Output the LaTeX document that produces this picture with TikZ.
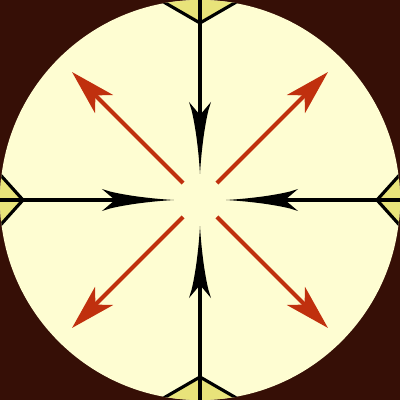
\documentclass[tikz,border=0pt]{standalone}
\usepackage{tikz}
\usetikzlibrary{arrows.meta}
\definecolor{bgbrown}{HTML}{360F06}
\definecolor{cream}{HTML}{FEFDD2}
\definecolor{wedgeyellow}{HTML}{E8E37A}
\definecolor{flowred}{HTML}{C0300E}

\begin{document}
\begin{tikzpicture}[x=0.01cm, y=0.01cm,
    inflow/.style  = {line width=0.9pt, black},
    outflow/.style = {line width=1.2pt, flowred,
                      -{Stealth[length=12.8pt, width=7.2pt, inset=3.4pt]}}]
  \tikzset{wedge/.style={fill=wedgeyellow}}
  \fill[bgbrown] (-200,-200) rectangle (200,200);
  \fill[cream] (0,0) coordinate (ctr) circle (200);
  % rim wedges and incoming stems
  \begin{scope}
    \clip (ctr) circle (200);
    \foreach \a/\h in {0/48, 90/60, 180/48, 270/60}{
      \begin{scope}[rotate=\a]
        \coordinate (apex\a) at (177,0);
        \fill[wedge] (apex\a) -- ++(-\h:60) -- (300,0) -- cycle;
        \fill[wedge] (apex\a) -- ++(\h:60) -- (300,0) -- cycle;
        \draw[inflow] (apex\a) ++(\h:60) -- (apex\a) -- ++(-\h:60);
        \draw[inflow] (200,0) -- (85,0);
        \fill (26,0) .. controls (60,2) and (82,6.5) .. (90,8.5) -- (98,11)
              -- (85,0) -- (98,-11) -- (90,-8.5) .. controls (82,-6.5) and (60,-2) .. (26,0) -- cycle;
      \end{scope}
    }
  \end{scope}
  % outgoing arrows
  \foreach \a in {45,135,225,315}{
    \coordinate (tail\a) at (\a:24);
    \coordinate (tip\a) at (\a:181);
    \draw[outflow] (tail\a) -- (tip\a);
  }
\end{tikzpicture}
\end{document}
